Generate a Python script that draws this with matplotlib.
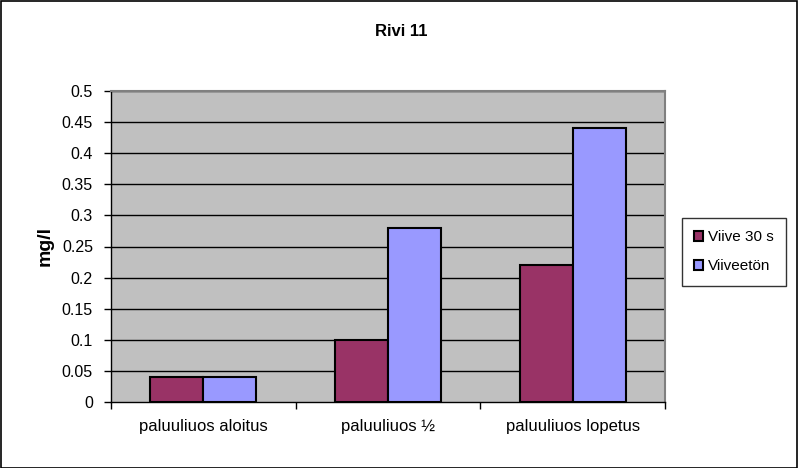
import matplotlib.pyplot as plt
import matplotlib.patches as mpatches
import numpy as np

plt.rcParams['font.family'] = ['Liberation Sans', 'DejaVu Sans']

categories = ["paluuliuos aloitus", "paluuliuos ½", "paluuliuos lopetus"]
viive_30s = [0.04, 0.10, 0.22]
viiveeton = [0.04, 0.28, 0.44]
y_ticks = [0, 0.05, 0.1, 0.15, 0.2, 0.25, 0.3, 0.35, 0.4, 0.45, 0.5]
y_labels = ["0", "0.05", "0.1", "0.15", "0.2", "0.25", "0.3", "0.35", "0.4", "0.45", "0.5"]

W, H = 798, 468
fig = plt.figure(figsize=(W / 100, H / 100), dpi=100)
fig.patch.set_facecolor("white")
fig.patches.append(mpatches.Rectangle((0.5 / W, 0.5 / H), 1 - 1.5 / W, 1 - 1.5 / H,
                                      transform=fig.transFigure, fill=False,
                                      edgecolor="black", linewidth=1.2))

ax = fig.add_axes([111 / W, 1 - 402 / H, (665 - 111) / W, (402 - 91) / H])
ax.set_facecolor("#C0C0C0")

x = np.arange(len(categories))
bw = 0.287
ax.bar(x - bw / 2, viive_30s, bw, color="#993366", edgecolor="black", linewidth=1.5,
       label="Viive 30 s", zorder=3)
ax.bar(x + bw / 2, viiveeton, bw, color="#9999FF", edgecolor="black", linewidth=1.5,
       label="Viiveetön", zorder=3)

ax.set_xlim(-0.5, 2.5)
ax.set_ylim(0, 0.5)
ax.set_yticks(y_ticks)
ax.set_yticklabels(y_labels, fontsize=11.5)
for t in y_ticks[1:]:
    ax.axhline(t, color="black", linewidth=1, zorder=1)

ax.set_xticks(x)
ax.set_xticklabels(categories, fontsize=12)
ax.tick_params(axis="x", length=0, pad=12)
ax.set_xticks([-0.5, 0.5, 1.5, 2.5], minor=True)
ax.tick_params(axis="x", which="minor", length=5, width=1, direction="out")
ax.tick_params(axis="y", length=5, width=1, direction="out", pad=8)

for side in ["top", "right"]:
    ax.spines[side].set_color("#808080")
    ax.spines[side].set_linewidth(1.5)
ax.spines["left"].set_linewidth(1)
ax.spines["bottom"].set_linewidth(1)

ax.set_ylabel("mg/l", fontsize=14, fontweight="bold", labelpad=6)
fig.text(401 / W, 1 - 31 / H, "Rivi 11", ha="center", va="center",
         fontsize=12, fontweight="bold")

leg = fig.legend(loc="upper left", bbox_to_anchor=(682 / W, 1 - 218 / H),
                 frameon=True, fancybox=False, fontsize=11, handlelength=0.6,
                 handleheight=0.6, handletextpad=0.3, labelspacing=1.0,
                 borderpad=0.8, borderaxespad=0)
leg.get_frame().set_edgecolor("black")
leg.get_frame().set_linewidth(1)

fig.savefig("out.png", dpi=100)
